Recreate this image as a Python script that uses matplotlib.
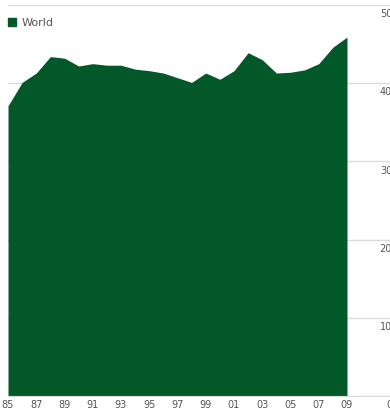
import matplotlib
matplotlib.use("Agg")
import matplotlib.pyplot as plt
from matplotlib.patches import Patch

years = list(range(1985, 2010))
world = [37.1, 40.1, 41.3, 43.4, 43.2, 42.2, 42.5, 42.3, 42.3, 41.8, 41.6, 41.3,
         40.7, 40.1, 41.3, 40.5, 41.6, 43.9, 43.0, 41.3, 41.4, 41.7, 42.5, 44.6, 45.9]
tick_years = list(range(1985, 2010, 2))
tick_labels = [f"{y % 100:02d}" for y in tick_years]
y_ticks = [0, 10, 20, 30, 40, 50]

green = "#03582A"
grid_c = "#dcdcdc"
text_c = "#555555"

fig = plt.figure(figsize=(3.90, 4.13), dpi=100)
ax = fig.add_axes([8 / 390, 17 / 413, 1 - 8 / 390, (396 - 5) / 413])

ax.fill_between(years, world, 0, color=green, linewidth=0, zorder=2)

ax.set_xlim(1985, 1985 + (390 - 8) / 14.125)
ax.set_ylim(0, 50)

ax.set_yticks(y_ticks)
ax.yaxis.grid(True, color=grid_c, linewidth=1.0, zorder=0)
ax.tick_params(axis="y", length=0, labelleft=False, labelright=False)
ax.set_axisbelow(True)

# value labels hang just below each gridline at the right edge
for v in y_ticks:
    ax.annotate(str(v), xy=(1, v), xycoords=("axes fraction", "data"),
                xytext=(1.5, -3), textcoords="offset points",
                ha="right", va="top", fontsize=7, color=text_c,
                annotation_clip=False)

ax.set_xticks(tick_years)
ax.set_xticklabels(tick_labels, fontsize=7, color=text_c)
ax.tick_params(axis="x", length=0, pad=3)

for s in ["left", "right", "top"]:
    ax.spines[s].set_visible(False)
ax.spines["bottom"].set_color(grid_c)

leg = ax.legend(handles=[Patch(color=green, label="World")], loc="upper left",
                bbox_to_anchor=(-0.012, 0.978), frameon=False, fontsize=8,
                handlelength=0.7, handleheight=0.7, handletextpad=0.5,
                borderaxespad=0)
for t in leg.get_texts():
    t.set_color(text_c)

fig.savefig("out.png", dpi=100)
